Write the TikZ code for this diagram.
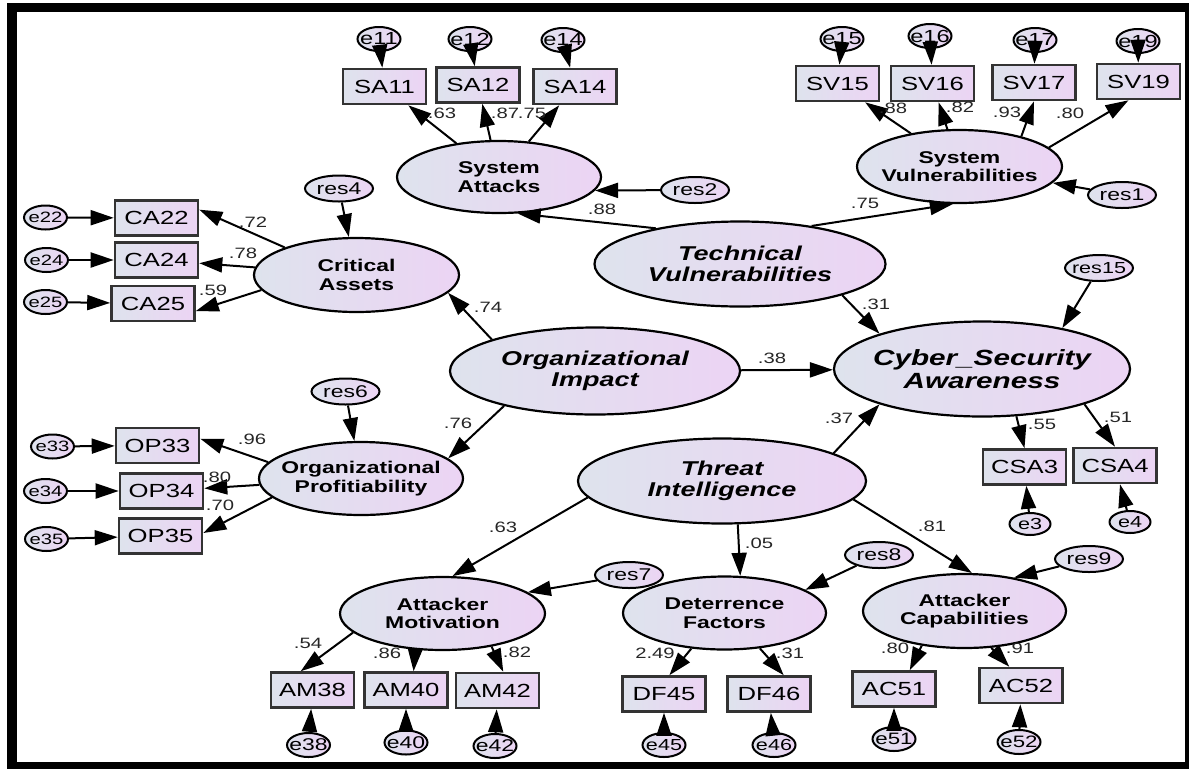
\documentclass[tikz,border=0pt]{standalone}
\usepackage{fontspec}
\setmainfont[FakeStretch=1.35]{Liberation Sans}
\usetikzlibrary{shapes.geometric,arrows.meta}
\definecolor{shL}{RGB}{222,227,237}
\definecolor{shR}{RGB}{236,212,244}
\newcommand{\fsz}[1]{\fontsize{#1}{#1}\selectfont}
\tikzset{
  shadend/.style={left color=shL, right color=shR},
  lat/.style={ellipse, shadend, draw=black, line width=2.2pt, inner xsep=-25pt, inner ysep=0pt,
    align=center, font=\fontsize{17}{18.5}\selectfont\bfseries},
  mainlat/.style={lat, font=\fontsize{20}{20.5}\selectfont\bfseries\itshape},
  obs/.style={rectangle, shadend, draw=black!80, line width=2.6pt, minimum width=83pt,
    minimum height=35pt, inner sep=0pt, font=\fsz{19}},
  err/.style={ellipse, shadend, draw=black, line width=2pt, minimum width=43pt, minimum height=24pt,
    inner xsep=-10pt, inner ysep=-2pt, font=\fsz{17.5}},
  errs/.style={err, font=\fsz{15}},
  res/.style={err, minimum width=68pt, minimum height=26pt, inner xsep=-16pt, font=\fsz{17}},
  coef/.style={inner sep=0pt, font=\fsz{15}, text=black!85},
  link/.style={-{Triangle[length=23pt,width=15pt]}, line width=2pt},
}
\begin{document}
\begin{tikzpicture}[x=1pt,y=-1pt]
\useasboundingbox (0,0) rectangle (1190,769);
% frame
\fill[black] (7,3) rectangle (17,769);
\fill[black] (7,3) rectangle (1189,12);
\fill[black] (7,762) rectangle (1189,769);
\fill[black] (1185,3) rectangle (1189,769);

% latent variables
\node[lat] (sa) at (499,177) [minimum width=204pt, minimum height=72pt] {System\\Attacks};
\node[lat] (sv) at (959.5,166.5) [minimum width=205pt, minimum height=73pt] {System\\Vulnerabilities};
\node[lat] (ca) at (356.5,275) [minimum width=205pt, minimum height=74pt] {Critical\\Assets};
\node[lat] (op) at (361,478.5) [minimum width=204pt, minimum height=73pt] {Organizational\\Profitiability};
\node[lat] (am) at (442.5,613.5) [minimum width=205pt, minimum height=73pt] {Attacker\\Motivation};
\node[lat] (df) at (724.5,613) [minimum width=203pt, minimum height=73pt] {Deterrence\\Factors};
\node[lat] (ac) at (964.5,611) [minimum width=203pt, minimum height=74pt] {Attacker\\Capabilities};
\node[mainlat] (tv) at (740,264) [minimum width=291pt, minimum height=85pt] {Technical\\Vulnerabilities};
\node[mainlat] (oi) at (595,371) [minimum width=290pt, minimum height=87pt] {Organizational\\Impact};
\node[mainlat, font=\fontsize{22}{22.5}\selectfont\bfseries\itshape] (csa) at (982,369)
  [minimum width=296pt, minimum height=95pt] {Cyber\_Security\\Awareness};
\node[mainlat] (ti) at (722,481) [minimum width=288pt, minimum height=85pt] {Threat\\Intelligence};

% observed variables
\node[obs] (sa11) at (384.5,86.5) {SA11};
\node[obs] (sa12) at (478,85) {SA12};
\node[obs] (sa14) at (575,86.5) {SA14};
\node[obs] (sv15) at (837.5,83.5) {SV15};
\node[obs] (sv16) at (932.5,83.5) {SV16};
\node[obs] (sv17) at (1034,82.5) {SV17};
\node[obs] (sv19) at (1138.5,81.5) {SV19};
\node[obs] (ca22) at (156.5,218) {CA22};
\node[obs] (ca24) at (156.5,260) {CA24};
\node[obs] (ca25) at (153,303.5) {CA25};
\node[obs] (op33) at (157.5,445.5) {OP33};
\node[obs] (op34) at (161.5,491) {OP34};
\node[obs] (op35) at (160.5,536) {OP35};
\node[obs] (csa3) at (1024.5,467) {CSA3};
\node[obs] (csa4) at (1115,465.5) {CSA4};
\node[obs] (am38) at (312.5,690) {AM38};
\node[obs] (am40) at (406,690) {AM40};
\node[obs] (am42) at (497.5,690.5) {AM42};
\node[obs] (df45) at (664,694) {DF45};
\node[obs] (df46) at (769,694) {DF46};
\node[obs] (ac51) at (894,689) {AC51};
\node[obs] (ac52) at (1021,685.5) {AC52};

% error terms
\node[err] (e11) at (379,39) {e11};
\node[err] (e12) at (470,39) {e12};
\node[err] (e14) at (563,40) {e14};
\node[err] (e15) at (842,39) {e15};
\node[err] (e16) at (930,36) {e16};
\node[err] (e17) at (1035,40) {e17};
\node[err] (e19) at (1138,41) {e19};
\node[errs] (e22) at (45.5,217.5) {e22};
\node[errs] (e24) at (46.5,260) {e24};
\node[errs] (e25) at (45.5,302) {e25};
\node[errs] (e33) at (52.5,446.5) {e33};
\node[errs] (e34) at (45.5,491) {e34};
\node[errs] (e35) at (46.5,539) {e35};
\node[err, font=\fsz{16}, minimum width=41pt, minimum height=22pt] (e3) at (1030,524) {e3};
\node[err, font=\fsz{16}, minimum width=41pt, minimum height=22pt] (e4) at (1130,522) {e4};
\node[err, font=\fsz{17}] (e38) at (308.5,745) {e38};
\node[err, font=\fsz{17}] (e40) at (406,742.5) {e40};
\node[err, font=\fsz{17}] (e42) at (495,746) {e42};
\node[err, font=\fsz{16}] (e45) at (664,745) {e45};
\node[err, font=\fsz{16}] (e46) at (774,745) {e46};
\node[err, font=\fsz{16.5}] (e51) at (894,739) {e51};
\node[err, font=\fsz{16.5}] (e52) at (1019,742) {e52};

% residuals
\node[res] (res1) at (1122,195) {res1};
\node[res] (res2) at (695,190) {res2};
\node[res] (res4) at (339,188.5) {res4};
\node[res] (res6) at (345.5,391.5) {res6};
\node[res] (res7) at (629,575) {res7};
\node[res] (res8) at (879,555) {res8};
\node[res] (res9) at (1089,559) {res9};
\node[res, font=\fsz{16}] (res15) at (1099,268) {res15};

% error paths
\foreach \e/\v in {e11/sa11,e12/sa12,e14/sa14,e15/sv15,e16/sv16,e17/sv17,e19/sv19,
  e22/ca22,e24/ca24,e25/ca25,e33/op33,e34/op34,e35/op35,e3/csa3,e4/csa4,
  e38/am38,e40/am40,e42/am42,e45/df45,e46/df46,e51/ac51,e52/ac52}
  \draw[link] (\e) -- (\v);

% loadings
\draw[link] (sa) -- (sa11);
\draw[link] (sa) -- (sa12);
\draw[link] (sa) -- (sa14);
\draw[link] (sv) -- (sv15);
\draw[link] (sv) -- (sv16);
\draw[link] (sv.26) -- (sv17.south);
\draw[link] (sv.12) -- (sv19.242);
\draw[link] (ca.159) -- (ca22.11);
\draw[link] (ca) -- (ca24);
\draw[link] (ca.189) -- (ca25.-10);
\draw[link] (op.170) -- (op33.9);
\draw[link] (op) -- (op34);
\draw[link] (op.192) -- (op35.4);
\draw[link] (csa.306) -- (csa3.north);
\draw[link] (csa.341) -- (csa4.north);
\draw[link] (am.192) -- (am38.122);
\draw[link] (am.233) -- (am40.68);
\draw[link] (am.326) -- (am42.73);
\draw[link] (df.227) -- (df45.74);
\draw[link] (df.315) -- (df46.52);
\draw[link] (ac.219) -- (ac51.50);
\draw[link] (ac.306) -- (ac52.122);

% structural paths
\draw[link] (tv.157) -- (sa.297);
\draw[link] (tv.28) -- (sv.260);
\draw[link] (oi.163) -- (ca.349);
\draw[link] (oi.201) -- (op.13);
\draw[link] (oi) -- (csa);
\draw[link] (tv.343) -- (csa.161);
\draw[link] (ti.14) -- (csa.199);
\draw[link] (ti.187) -- (am.75);
\draw[link] (ti.290) -- (df.67);
\draw[link] (ti.352) -- (ac.79);

% residual paths
\draw[link] (res1) -- (sv);
\draw[link] (res2) -- (sa.352);
\draw[link] (res4) -- (ca);
\draw[link] (res6) -- (op);
\draw[link] (res7) -- (am.14);
\draw[link] (res8) -- (df.16);
\draw[link] (res9) -- (ac.34);
\draw[link] (res15) -- (csa.27);

% coefficients
\node[coef] (c1) at (442,113) {.63};
\node[coef] (c2) at (505,113) {.87};
\node[coef] (c3) at (532,113) {.75};
\node[coef] (c4) at (602,209) {.88};
\node[coef] (c5) at (893,108) {.88};
\node[coef] (c6) at (960,107) {.82};
\node[coef] (c7) at (1007,112) {.93};
\node[coef] (c8) at (1070,113) {.80};
\node[coef] (c9) at (865,203) {.75};
\node[coef] (c10) at (253,222) {.72};
\node[coef] (c11) at (243,253) {.78};
\node[coef] (c12) at (213,290) {.59};
\node[coef] (c13) at (252,439) {.96};
\node[coef] (c14) at (217,477) {.80};
\node[coef] (c15) at (220,505) {.70};
\node[coef] (c16) at (488,307) {.74};
\node[coef] (c17) at (458,423) {.76};
\node[coef] (c18) at (772,358) {.38};
\node[coef] (c19) at (876,304) {.31};
\node[coef] (c20) at (839,418) {.37};
\node[coef] (c21) at (1042,424) {.55};
\node[coef] (c22) at (1118,417) {.51};
\node[coef] (c23) at (503,527) {.63};
\node[coef] (c24) at (932,526) {.81};
\node[coef] (c25) at (759,543) {.05};
\node[coef] (c26) at (308,643) {.54};
\node[coef] (c27) at (387,653) {.86};
\node[coef] (c28) at (517,652) {.82};
\node[coef] (c29) at (655,653) {2.49};
\node[coef] (c30) at (790,653) {.31};
\node[coef] (c31) at (895,648) {.80};
\node[coef] (c32) at (1020,648) {.91};
\end{tikzpicture}
\end{document}
